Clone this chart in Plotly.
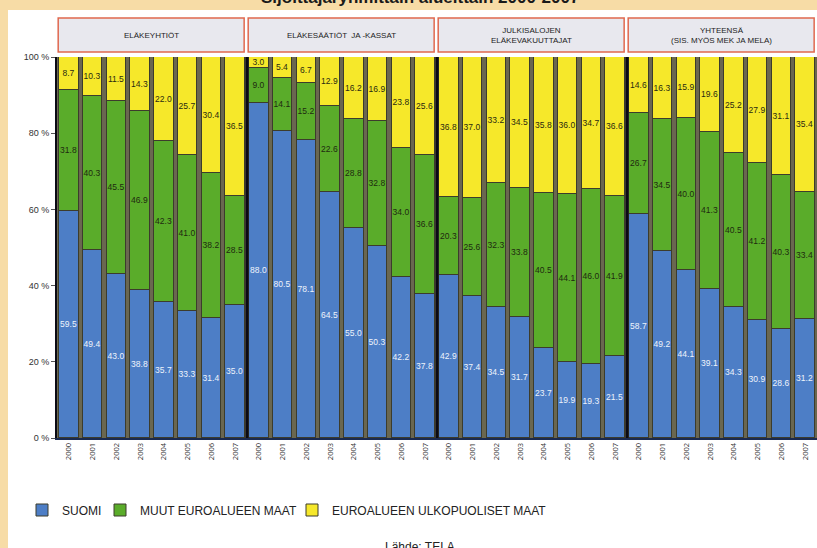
import plotly.graph_objects as go

years = ["2000", "2001", "2002", "2003", "2004", "2005", "2006", "2007"]
groups = ["ELÄKEYHTIÖT", "ELÄKESÄÄTIÖT  JA -KASSAT",
          "JULKISALOJEN<br>ELÄKEVAKUUTTAJAT",
          "YHTEENSÄ<br>(SIS. MYÖS MEK JA MELA)"]
series_names = ["SUOMI", "MUUT EUROALUEEN MAAT", "EUROALUEEN ULKOPUOLISET MAAT"]

suomi = [59.5, 49.4, 43.0, 38.8, 35.7, 33.3, 31.4, 35.0,
         88.0, 80.5, 78.1, 64.5, 55.0, 50.3, 42.2, 37.8,
         42.9, 37.4, 34.5, 31.7, 23.7, 19.9, 19.3, 21.5,
         58.7, 49.2, 44.1, 39.1, 34.3, 30.9, 28.6, 31.2]
muut_euro = [31.8, 40.3, 45.5, 46.9, 42.3, 41.0, 38.2, 28.5,
             9.0, 14.1, 15.2, 22.6, 28.8, 32.8, 34.0, 36.6,
             20.3, 25.6, 32.3, 33.8, 40.5, 44.1, 46.0, 41.9,
             26.7, 34.5, 40.0, 41.3, 40.5, 41.2, 40.3, 33.4]
ulkopuoliset = [8.7, 10.3, 11.5, 14.3, 22.0, 25.7, 30.4, 36.5,
                3.0, 5.4, 6.7, 12.9, 16.2, 16.9, 23.8, 25.6,
                36.8, 37.0, 33.2, 34.5, 35.8, 36.0, 34.7, 36.6,
                14.6, 16.3, 15.9, 19.6, 25.2, 27.9, 31.1, 35.4]

colors = ["#4d7ec6", "#5aac2a", "#f6e82a"]
label_colors = ["#eef3fb", "#1e2a10", "#2a2a10"]
legend_ids = ["legend", "legend2", "legend3"]

n_per = len(years)
xpos = [g * n_per + i + 0.5 for g in range(len(groups)) for i in range(n_per)]
ticktext = years * len(groups)

fig = go.Figure()
for name, vals, col, lc, lg in zip(series_names, [suomi, muut_euro, ulkopuoliset],
                                   colors, label_colors, legend_ids):
    fig.add_trace(go.Bar(
        x=xpos, y=vals, name=name, width=0.82, legend=lg,
        marker=dict(color=col, line=dict(color="#3c3c2c", width=1)),
        text=[f"{v:.1f}" for v in vals], textposition="inside",
        insidetextanchor="middle", textangle=0,
        textfont=dict(size=8.5, color=lc, family="Liberation Sans Narrow, Arial"),
        constraintext="none", cliponaxis=False,
    ))

W, H = 817, 548
L, R, T, B = 57, 0, 57, 110
pw, ph = W - L - R, H - T - B

def px_x(p):
    return (p - L) / pw

def px_y(p):
    return (H - B - p) / ph

shapes = []
# beige frame strips (left and top)
shapes.append(dict(type="rect", xref="paper", yref="paper", x0=px_x(-5), x1=px_x(8),
                   y0=px_y(H + 5), y1=px_y(-5), fillcolor="#f7dca6", line=dict(width=0), layer="above"))
shapes.append(dict(type="rect", xref="paper", yref="paper", x0=px_x(-5), x1=px_x(W + 5),
                   y0=px_y(10), y1=px_y(-5), fillcolor="#f7dca6", line=dict(width=0), layer="above"))
# panel separators
for g in range(1, len(groups)):
    shapes.append(dict(type="line", xref="x", yref="y", x0=g * n_per, x1=g * n_per,
                       y0=0, y1=100, line=dict(color="#0a0a14", width=3), layer="above"))
# header boxes
annotations = []
for g, gname in enumerate(groups):
    x0 = g * n_per + 0.05
    x1 = (g + 1) * n_per - 0.12
    shapes.append(dict(type="rect", xref="x", yref="paper", x0=x0, x1=x1,
                       y0=px_y(52), y1=px_y(18), fillcolor="#e8e8ee",
                       line=dict(color="#e0684e", width=1.5), layer="above"))
    annotations.append(dict(x=(x0 + x1) / 2, y=px_y(35), xref="x", yref="paper",
                            text=gname, showarrow=False, xanchor="center", yanchor="middle",
                            font=dict(size=8, color="#222222", family="Liberation Sans Narrow, Arial")))

annotations.append(dict(x=px_x(420), y=px_y(-3), xref="paper", yref="paper",
                        text="<b>Sijoittajaryhmittäin alueittain 2000-2007</b>", showarrow=False,
                        xanchor="center", yanchor="middle",
                        font=dict(size=17, color="#1a1a1a", family="Liberation Sans, Arial")))
annotations.append(dict(x=px_x(420), y=px_y(547), xref="paper", yref="paper",
                        text="Lähde: TELA", showarrow=False, xanchor="center", yanchor="middle",
                        font=dict(size=12, color="#222222", family="Liberation Sans, Arial")))

legend_font = dict(size=12, color="#222222", family="Liberation Sans Narrow, Arial")
def legend_at(px):
    return dict(orientation="h", x=px_x(px), y=px_y(510), xanchor="left", yanchor="middle",
                font=legend_font, bgcolor="rgba(0,0,0,0)", itemwidth=30)

fig.update_layout(
    width=W, height=H,
    margin=dict(l=L, r=R, t=T, b=B, pad=0),
    barmode="stack",
    bargap=0,
    paper_bgcolor="white",
    plot_bgcolor="#6a6750",
    showlegend=True,
    legend=legend_at(22),
    legend2=legend_at(100),
    legend3=legend_at(292),
    shapes=shapes,
    annotations=annotations,
    uniformtext=dict(minsize=8, mode="show"),
)
fig.update_xaxes(range=[0, len(groups) * n_per], tickvals=xpos, ticktext=ticktext,
                 tickangle=-90, tickfont=dict(size=7.5, color="#333333"),
                 showgrid=False, zeroline=False, showline=True, linecolor="#1a2a50", linewidth=2,
                 ticks="", fixedrange=True)
fig.update_yaxes(range=[0, 100], tickvals=[0, 20, 40, 60, 80, 100],
                 ticktext=["0 %", "20 %", "40 %", "60 %", "80 %", "100 %"],
                 tickfont=dict(size=9, color="#333333", family="Liberation Sans Narrow, Arial"),
                 ticks="outside", ticklen=4, tickcolor="#555555",
                 showgrid=False, zeroline=False, showline=True, linecolor="#0a0a14", linewidth=2,
                 fixedrange=True)

fig.write_html("out.html", config={"displayModeBar": False},
               post_script="document.body.style.margin='0';document.body.style.overflow='hidden';")
